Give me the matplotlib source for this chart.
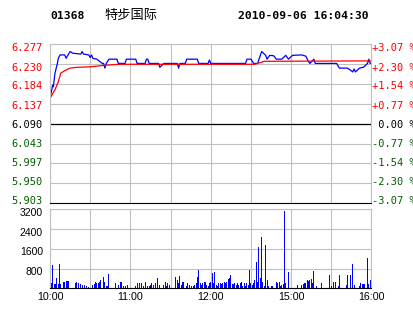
import matplotlib.pyplot as plt
from matplotlib.transforms import ScaledTranslation

# x = trading minutes after 10:00 (lunch break left out), 240 = 16:00
price_min = [0, 2, 2.5, 3.7, 5.5, 6.2, 7.5, 11, 12, 15, 17, 23, 24, 25, 29, 30, 31, 32,
             35, 39, 40, 41, 42, 44, 50, 51, 56, 57, 64, 65, 71, 72, 73, 74, 81, 82,
             85, 95, 96, 97, 101, 102, 110, 111, 118, 119, 120, 146, 147, 150, 152,
             155, 157, 158, 161, 162, 164, 167, 169, 173, 176, 178, 181, 188, 191,
             193, 194, 197, 198, 214, 216, 222, 224, 226, 227, 228, 231, 234, 237,
             238, 239, 240]
price_val = [6.150, 6.181, 6.177, 6.209, 6.232, 6.244, 6.252, 6.252, 6.244, 6.260,
             6.256, 6.254, 6.260, 6.254, 6.252, 6.246, 6.252, 6.244, 6.242, 6.232,
             6.232, 6.221, 6.232, 6.242, 6.242, 6.232, 6.232, 6.242, 6.242, 6.232,
             6.232, 6.242, 6.242, 6.232, 6.232, 6.223, 6.232, 6.232, 6.221, 6.232,
             6.232, 6.242, 6.242, 6.232, 6.232, 6.240, 6.232, 6.232, 6.242, 6.242,
             6.232, 6.232, 6.251, 6.260, 6.251, 6.242, 6.251, 6.250, 6.242, 6.242,
             6.251, 6.242, 6.251, 6.252, 6.249, 6.236, 6.232, 6.242, 6.232, 6.232,
             6.221, 6.221, 6.217, 6.212, 6.219, 6.212, 6.221, 6.223, 6.232, 6.242,
             6.232, 6.232]

avg_min = [0, 3.7, 6.2, 8, 11, 15, 21, 30, 39, 42, 52, 153, 155, 160, 240]
avg_val = [6.150, 6.170, 6.189, 6.209, 6.215, 6.221, 6.223, 6.224, 6.227, 6.228,
           6.230, 6.230, 6.232, 6.237, 6.238]

volume = [360, 200, 930, 160, 160, 430, 160, 990, 160, 0,
          270, 270, 310, 310, 310, 0, 0, 0, 0, 200,
          270, 230, 0, 180, 135, 0, 135, 90, 0, 65,
          0, 0, 135, 160, 240, 200, 230, 270, 330, 0,
          450, 270, 90, 90, 590, 0, 0, 0, 0, 230,
          0, 135, 0, 240, 0, 90, 90, 0, 135, 0,
          0, 0, 0, 0, 90, 230, 0, 230, 230, 0,
          90, 270, 0, 90, 90, 135, 200, 135, 0, 200,
          400, 0, 135, 0, 0, 135, 270, 90, 200, 135,
          0, 0, 0, 0, 470, 330, 230, 500, 135, 240,
          240, 0, 90, 200, 135, 0, 90, 90, 135, 230,
          470, 740, 200, 135, 200, 270, 240, 135, 90, 200,
          270, 600, 230, 650, 135, 90, 200, 230, 160, 230,
          270, 230, 270, 360, 400, 540, 180, 180, 230, 135,
          230, 135, 230, 270, 90, 230, 90, 230, 135, 740,
          200, 135, 230, 330, 1070, 270, 1670, 400, 2090, 270,
          90, 1740, 330, 90, 0, 90, 90, 0, 0, 240,
          200, 240, 90, 135, 180, 3150, 200, 0, 650, 0,
          0, 0, 0, 0, 0, 135, 0, 0, 135, 180,
          230, 200, 350, 300, 350, 390, 200, 720, 0, 90,
          0, 0, 0, 230, 0, 0, 0, 0, 0, 520,
          90, 0, 260, 260, 0, 90, 520, 0, 0, 0,
          0, 130, 520, 0, 520, 0, 1000, 130, 0, 0,
          0, 90, 230, 160, 170, 170, 0, 1210, 170, 330,
          480]

prev_close = 6.090
price_ticks = [5.903, 5.950, 5.997, 6.043, 6.090, 6.137, 6.184, 6.230, 6.277]
price_labels = ['5.903', '5.950', '5.997', '6.043', '6.090', '6.137', '6.184', '6.230', '6.277']
pct_labels = ['-3.07 %', '-2.30 %', '-1.54 %', '-0.77 %', ' 0.00 %',
              '+0.77 %', '+1.54 %', '+2.30 %', '+3.07 %']
vol_ticks = [800, 1600, 2400, 3200]
time_ticks = [0, 60, 120, 180, 240]
time_labels = ['10:00', '11:00', '12:00', '15:00', '16:00']

GRID = '#c0c0c0'
GREEN = '#006000'
W, H = 414, 314

fig = plt.figure(figsize=(W / 100, H / 100), dpi=100)


def box(l, t, r, b):
    return [l / W, 1 - b / H, (r - l) / W, (b - t) / H]


def shift(lab, dy):
    lab.set_transform(lab.get_transform() + ScaledTranslation(0, dy / 100, fig.dpi_scale_trans))


def colour(p):
    if p > prev_close + 1e-9:
        return 'red'
    if p < prev_close - 1e-9:
        return GREEN
    return 'black'


# price panel
ax = fig.add_axes(box(50, 44.3, 371.5, 203.3))
ax.set_xlim(0, 240)
ax.set_ylim(price_ticks[0], price_ticks[-1])
ax.set_xticks(range(0, 241, 30))
ax.set_yticks(price_ticks)
ax.set_yticklabels(price_labels, family='DejaVu Sans Mono', fontsize=7.5)
ax.tick_params(length=0, labelbottom=False, pad=5)
ax.grid(True, color=GRID, lw=0.8)
ax.set_axisbelow(True)
ax.axhline(prev_close, color='black', lw=0.9)
for s in ['top', 'left', 'right']:
    ax.spines[s].set_color(GRID)
ax.spines['bottom'].set_color('black')

ax.plot(price_min, price_val, color='#0000ff', lw=0.9)
ax.plot(avg_min, avg_val, color='#ff0000', lw=0.9)

n = len(price_ticks) - 1
for i, lab in enumerate(ax.get_yticklabels()):
    lab.set_color(colour(price_ticks[i]))
    shift(lab, 3 - 6 * i / n)

rax = ax.twinx()
rax.set_ylim(ax.get_ylim())
rax.set_yticks(price_ticks)
rax.set_yticklabels(pct_labels, family='DejaVu Sans Mono', fontsize=7.5)
rax.tick_params(length=0, pad=0.5)
for s in rax.spines.values():
    s.set_visible(False)
for i, lab in enumerate(rax.get_yticklabels()):
    lab.set_color(colour(price_ticks[i]))
    shift(lab, 3 - 6 * i / n)

# volume panel
vax = fig.add_axes(box(50, 209.3, 371.5, 288.3))
vax.bar(range(len(volume)), volume, width=0.75, color='#0000ff', lw=0, antialiased=False)
vax.set_xlim(0, 240)
vax.set_ylim(0, 3200)
vax.set_yticks([0] + vol_ticks)
vax.set_yticklabels([''] + [str(v) for v in vol_ticks], family='Liberation Sans', fontsize=7.5)
vax.set_xticks(range(0, 241, 30))
vax.set_xticklabels([time_labels[time_ticks.index(t)] if t in time_ticks else ''
                     for t in range(0, 241, 30)], family='Liberation Sans', fontsize=7.7)
vax.tick_params(length=0, pad=5)
vax.tick_params(axis='x', pad=3)
vax.grid(True, color=GRID, lw=0.8)
vax.set_axisbelow(True)
for s in ['top', 'left', 'right']:
    vax.spines[s].set_color(GRID)
vax.spines['bottom'].set_color('black')
for lab in vax.get_yticklabels():
    shift(lab, -2.5)

# header
fig.text(50 / W, 1 - 16 / H, '01368', family='DejaVu Sans Mono', weight='bold',
         fontsize=8.2, va='center')
fig.text(104 / W, 1 - 15 / H, '特步国际', family=['Noto Sans CJK SC', 'DejaVu Sans'],
         fontsize=9.5, va='center')
fig.text(238 / W, 1 - 16 / H, '2010-09-06 16:04:30', family='DejaVu Sans Mono',
         weight='bold', fontsize=8.2, va='center')

fig.savefig('out.png', dpi=100)
